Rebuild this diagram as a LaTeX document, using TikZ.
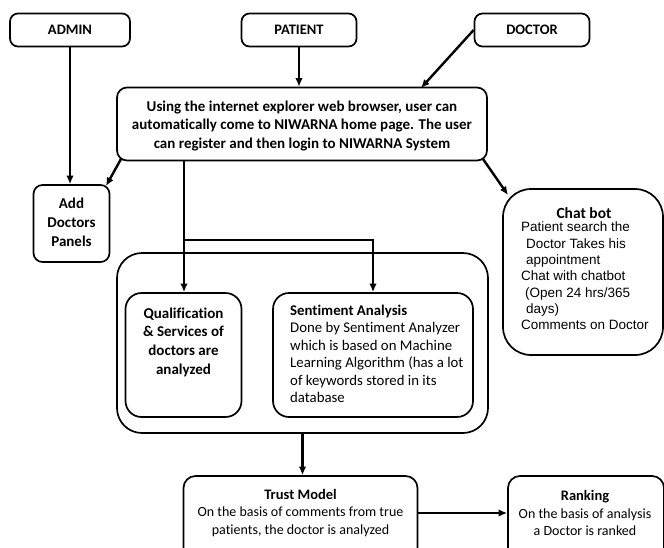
\documentclass[tikz,border=0pt]{standalone}
\usepackage{fontspec}
\setmainfont{Carlito}[Ligatures=NoCommon]
\newfontfamily\arialfont{Liberation Sans}
\usetikzlibrary{arrows.meta}
\begin{document}
\begin{tikzpicture}[x=1pt,y=-1pt,
  box/.style={draw, line width=1.7pt, rounded corners=8pt, inner sep=0pt},
  flow/.style={-{Latex[length=8.5pt,width=7.5pt]}, line width=2.4pt},
  lab/.style={font=\fontsize{14.5}{17}\selectfont\bfseries, align=center, inner sep=0pt},
  body/.style={font=\fontsize{14}{17.5}\selectfont, inner sep=0pt}]
\useasboundingbox (0,0) rectangle (664,547);
\clip (0,0) rectangle (664,547);

% actors
\node[box, minimum width=120pt, minimum height=33pt, lab] (admin) at (70,30) {ADMIN};
\node[box, minimum width=115pt, minimum height=33pt, lab] (patient) at (299,30) {PATIENT};
\node[box, minimum width=115pt, minimum height=33pt, lab] (doctor) at (532,30) {DOCTOR};

% login step
\node[box, rounded corners=10pt, minimum width=370pt, minimum height=73pt] (main) at (302,124) {};
\node[lab, font=\fontsize{15}{18.5}\selectfont\bfseries] (maintext) at (302,126)
  {Using the internet explorer web browser, user can\\
   automatically come to NIWARNA home page. The user\\
   can register and then login to NIWARNA System};

% admin panel
\node[box, rounded corners=9pt, minimum width=76pt, minimum height=77pt] (add) at (71.5,223.5) {};
\node[lab, font=\fontsize{15}{19}\selectfont\bfseries] (addtext) at (71.5,222) {Add\\Doctors\\Panels};

% chat bot
\node[box, rounded corners=28pt, minimum width=160pt, minimum height=166pt] (chat) at (583,272) {};
\node[lab, font=\fontsize{15.5}{18}\selectfont\bfseries] (chattitle) at (584,213) {Chat bot};
\node[inner sep=0pt, anchor=north west, align=left, font=\arialfont\fontsize{13.5}{16.3}\selectfont] (chattext) at (521,222)
  {Patient search the\\
   \hspace*{5pt}Doctor Takes his\\
   \hspace*{5pt}appointment\\
   Chat with chatbot\\
   \hspace*{4pt}(Open 24 hrs/365\\
   \hspace*{5pt}days)\\
   Comments on Doctor};

% analysis group
\node[box, rounded corners=25pt, minimum width=371pt, minimum height=180pt] (group) at (302.5,343) {};
\node[box, rounded corners=16pt, minimum width=116pt, minimum height=124pt] (qual) at (183.5,355) {};
\node[lab, font=\fontsize{15}{18.7}\selectfont\bfseries] (qualtext) at (183.5,342)
  {Qualification\\\& Services of\\doctors are\\analyzed};
\node[box, rounded corners=16pt, minimum width=200pt, minimum height=124pt] (sent) at (373,355) {};
\node[body, anchor=north west, align=left, font=\fontsize{14.8}{17.4}\selectfont] (senttext) at (290,305)
  {{\bfseries Sentiment Analysis}\\
   Done by Sentiment Analyzer\\
   which is based on Machine\\
   Learning Algorithm (has a lot\\
   of keywords stored in its\\
   database};

% trust and ranking
\node[box, rounded corners=12pt, minimum width=234pt, minimum height=94pt] (trust) at (300.5,523) {};
\node[body, align=center] (trusttext) at (300.5,513)
  {{\bfseries\fontsize{14.5}{17.5}\selectfont Trust Model}\\
   On the basis of comments from true\\
   patients, the doctor is analyzed};
\node[box, rounded corners=12pt, minimum width=156pt, minimum height=94pt] (rank) at (586,523) {};
\node[body, align=center] (ranktext) at (585,513)
  {{\bfseries\fontsize{14.5}{17.5}\selectfont Ranking}\\
   On the basis of analysis\\
   a Doctor is ranked};

% connector end points on the login box
\coordinate (docin) at (421,88);
\coordinate (addout) at (121,159);
\coordinate (addin) at (106,186);
\coordinate (chatout) at (483,159);
\coordinate (chatin) at (508,195);
\coordinate (split) at (184,240);

% connectors
\draw[flow] (admin.south) -- (admin.south |- add.north);
\draw[flow] (patient.south) -- (patient.south |- main.north);
\draw[flow] (doctor.west) -- (docin);
\draw[flow] (addout) -- (addin);
\draw[flow] (chatout) -- (chatin);
\draw[flow] (split |- main.south) -- (split |- qual.north);
\draw[flow] (split) -| (sent.north);
\draw[flow] (group.south) -- (group.south |- trust.north);
\draw[flow] (trust.east |- trusttext) -- (rank.west |- trusttext);
\end{tikzpicture}
\end{document}
